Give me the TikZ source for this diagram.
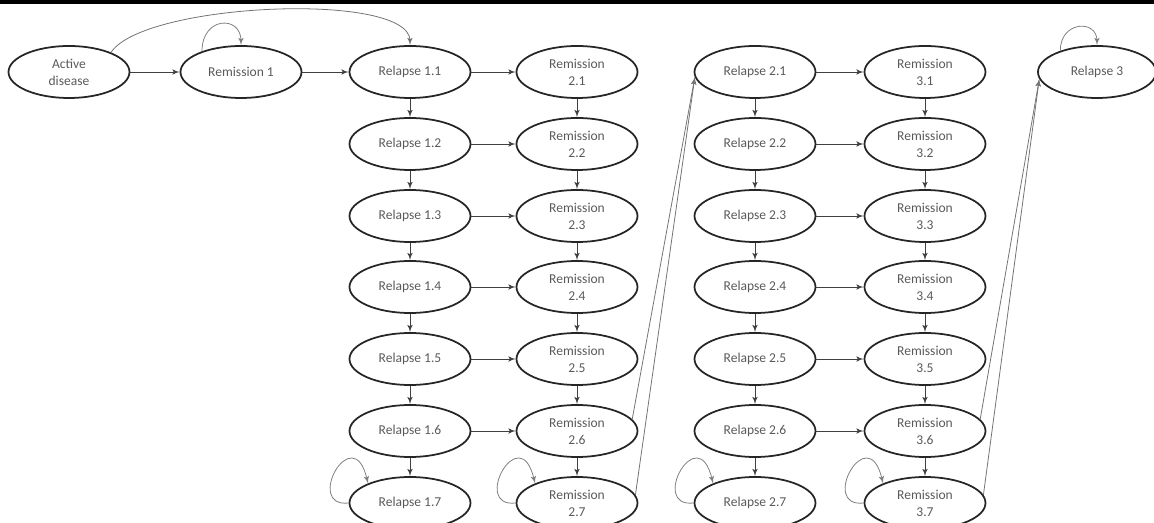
\documentclass[tikz,border=0pt]{standalone}
\usepackage{fontspec}
\setmainfont{Carlito}
\usepackage{tikz}
\usetikzlibrary{arrows, arrows.meta, shapes.geometric}
\tikzset{state/.style = {shape = ellipse, draw = black!85, line width = 1pt, minimum width = 2.42cm, minimum height = 1.04cm, inner sep = 0pt, align = center, text = black!65, font = \fontsize{7.7}{9.6}\selectfont}}
\tikzset{edge/.style = {->, > = latex', draw = black!75, line width = 0.45pt}}
\tikzset{jump/.style = {->, > = latex', draw = black!55, line width = 0.45pt}}
\tikzset{selfloop/.style = {->, > = latex', draw = black!50, line width = 0.45pt}}

\begin{document}
\begin{tikzpicture}[x = 0.02cm, y = -0.02cm]
	\useasboundingbox (0, 0) rectangle (1154, 523);
	\fill[black] (0, 0) rectangle (1154, 4);

	\node[state] (act) at (69, 72) {Active\\disease};
	\node[state] (rem1) at (241, 72) {Remission 1};

	\node[state] (rel11) at (410, 72) {Relapse 1.1};
	\node[state] (rel12) at (410, 144) {Relapse 1.2};
	\node[state] (rel13) at (410, 216) {Relapse 1.3};
	\node[state] (rel14) at (410, 287) {Relapse 1.4};
	\node[state] (rel15) at (410, 359) {Relapse 1.5};
	\node[state] (rel16) at (410, 431) {Relapse 1.6};
	\node[state] (rel17) at (410, 503) {Relapse 1.7};

	\node[state] (rem21) at (577, 72) {Remission\\2.1};
	\node[state] (rem22) at (577, 144) {Remission\\2.2};
	\node[state] (rem23) at (577, 216) {Remission\\2.3};
	\node[state] (rem24) at (577, 287) {Remission\\2.4};
	\node[state] (rem25) at (577, 359) {Remission\\2.5};
	\node[state] (rem26) at (577, 431) {Remission\\2.6};
	\node[state] (rem27) at (577, 503) {Remission\\2.7};

	\node[state] (rel21) at (755, 72) {Relapse 2.1};
	\node[state] (rel22) at (755, 144) {Relapse 2.2};
	\node[state] (rel23) at (755, 216) {Relapse 2.3};
	\node[state] (rel24) at (755, 287) {Relapse 2.4};
	\node[state] (rel25) at (755, 359) {Relapse 2.5};
	\node[state] (rel26) at (755, 431) {Relapse 2.6};
	\node[state] (rel27) at (755, 503) {Relapse 2.7};

	\node[state] (rem31) at (925, 72) {Remission\\3.1};
	\node[state] (rem32) at (925, 144) {Remission\\3.2};
	\node[state] (rem33) at (925, 216) {Remission\\3.3};
	\node[state] (rem34) at (925, 287) {Remission\\3.4};
	\node[state] (rem35) at (925, 359) {Remission\\3.5};
	\node[state] (rem36) at (925, 431) {Remission\\3.6};
	\node[state] (rem37) at (925, 503) {Remission\\3.7};

	\node[state, minimum width = 2.36cm] (rel3) at (1097, 72) {Relapse 3};

	% first row
	\draw[edge] (act) -- (rem1);
	\draw[edge] (rem1) -- (rel11);
	\draw[edge] (rel11) -- (rem21);
	\draw[edge] (rel21) -- (rem31);
	\draw[jump] (act.25) .. controls +(33, -50) and +(0, -54) .. (rel11.north);
	\draw[selfloop] (rem1.152) .. controls +(0, -35) and +(0, -30) .. (rem1.north);
	\draw[selfloop] (rel3.150) .. controls +(0, -30) and +(0, -26) .. (rel3.north);

	% relapse 1 -> remission 2
	\draw[edge] (rel11) -- (rel12);
	\draw[edge] (rel12) -- (rel13);
	\draw[edge] (rel13) -- (rel14);
	\draw[edge] (rel14) -- (rel15);
	\draw[edge] (rel15) -- (rel16);
	\draw[edge] (rel16) -- (rel17);
	\draw[edge] (rel12) -- (rem22);
	\draw[edge] (rel13) -- (rem23);
	\draw[edge] (rel14) -- (rem24);
	\draw[edge] (rel15) -- (rem25);
	\draw[edge] (rel16) -- (rem26);
	\draw[edge] (rem21) -- (rem22);
	\draw[edge] (rem22) -- (rem23);
	\draw[edge] (rem23) -- (rem24);
	\draw[edge] (rem24) -- (rem25);
	\draw[edge] (rem25) -- (rem26);
	\draw[edge] (rem26) -- (rem27);

	% relapse 2 -> remission 3
	\draw[edge] (rel21) -- (rel22);
	\draw[edge] (rel22) -- (rel23);
	\draw[edge] (rel23) -- (rel24);
	\draw[edge] (rel24) -- (rel25);
	\draw[edge] (rel25) -- (rel26);
	\draw[edge] (rel26) -- (rel27);
	\draw[edge] (rel22) -- (rem32);
	\draw[edge] (rel23) -- (rem33);
	\draw[edge] (rel24) -- (rem34);
	\draw[edge] (rel25) -- (rem35);
	\draw[edge] (rel26) -- (rem36);
	\draw[edge] (rem31) -- (rem32);
	\draw[edge] (rem32) -- (rem33);
	\draw[edge] (rem33) -- (rem34);
	\draw[edge] (rem34) -- (rem35);
	\draw[edge] (rem35) -- (rem36);
	\draw[edge] (rem36) -- (rem37);

	% jumps to the next relapse
	\draw[jump] (rem26.12) -- (rel21.185);
	\draw[jump] (rem27.8) -- (rel21.185);
	\draw[jump] (rem36.12) -- (rel3.187);
	\draw[jump] (rem37.8) -- (rel3.187);

	% self loops, bottom row
	\draw[selfloop] (rel17.west) .. controls +(-45, 5) and +(-15, -65) .. (rel17.155);
	\draw[selfloop] (rem27.west) .. controls +(-45, 5) and +(-15, -65) .. (rem27.155);
	\draw[selfloop] (rel27.west) .. controls +(-45, 5) and +(-15, -65) .. (rel27.155);
	\draw[selfloop] (rem37.west) .. controls +(-45, 5) and +(-15, -65) .. (rem37.155);
\end{tikzpicture}
\end{document}
